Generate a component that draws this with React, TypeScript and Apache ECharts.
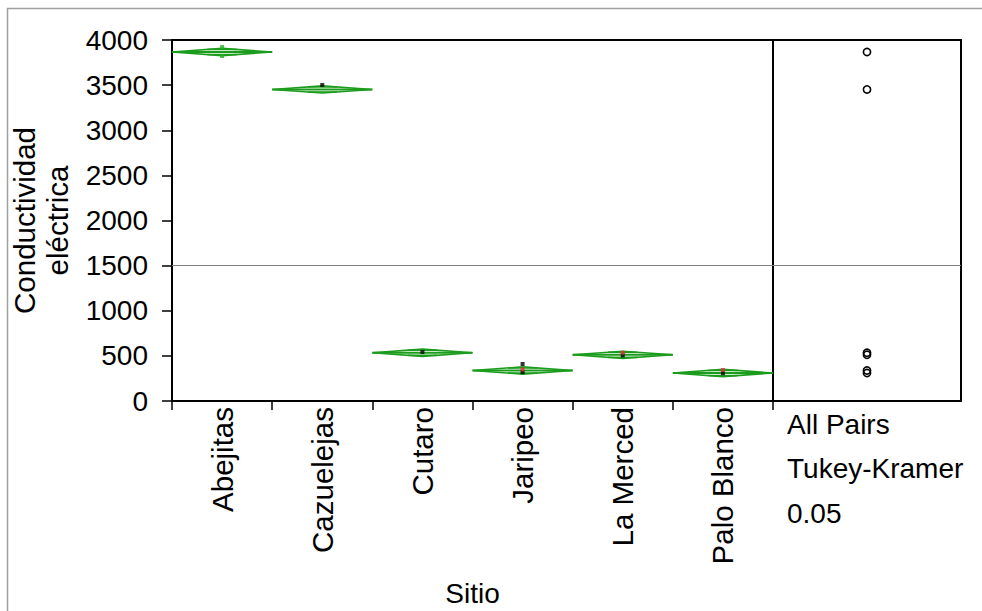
import React, { useEffect, useRef } from "react";
import * as echarts from "echarts";

const categories = ["Abejitas", "Cazuelejas", "Cutaro", "Jaripeo", "La Merced", "Palo Blanco"];
const means = [3867, 3452, 535, 338, 512, 310];
const ciHalf = [40, 40, 40, 40, 40, 40];
const circleRadius = [40, 40, 40, 40, 40, 40];
const pointsGreen = [[0, 3922], [0, 3823]];
const pointsBlack = [[1, 3501], [2, 543], [3, 410], [3, 320], [4, 505], [5, 308]];
const pointsRed = [[3, 350], [4, 535], [5, 343]];
const yMin = 0;
const yMax = 4000;
const yInterval = 500;
const xTitle = "Sitio";
const yTitle = "Conductividad\neléctrica";
const footnote = ["All Pairs", "Tukey-Kramer", "0.05"];

const FONT = "'Liberation Sans', Arial, sans-serif";
const GREEN = "#1c9c1c";

export default function App() {
  const ref = useRef<HTMLDivElement>(null);
  useEffect(() => {
    document.body.style.margin = "0";
    const chart = echarts.init(ref.current!, null, { renderer: "svg" });
    const grandMean = means.reduce((a, b) => a + b, 0) / means.length;
    const meanLine = {
      silent: true,
      symbol: "none",
      label: { show: false },
      lineStyle: { color: "#808080", width: 1, type: "solid" },
      data: [{ yAxis: grandMean }],
    };
    chart.setOption({
      animation: false,
      backgroundColor: "#fff",
      textStyle: { fontFamily: FONT },
      grid: [
        { left: 172, top: 40, width: 601, height: 361, containLabel: false, outerBoundsMode: "none", show: true, borderColor: "#000", borderWidth: 2, backgroundColor: "transparent" },
        { left: 773, top: 40, width: 188, height: 361, containLabel: false, outerBoundsMode: "none", show: true, borderColor: "#000", borderWidth: 2, backgroundColor: "transparent" },
      ],
      xAxis: [
        {
          type: "category",
          gridIndex: 0,
          data: categories,
          boundaryGap: true,
          name: xTitle,
          nameLocation: "middle",
          nameGap: 178,
          nameTextStyle: { fontSize: 28, color: "#000", fontFamily: FONT },
          axisLine: { lineStyle: { color: "#000", width: 2 } },
          axisTick: { show: true, length: 9, lineStyle: { color: "#000", width: 1.5 } },
          axisLabel: { rotate: 90, margin: 6, fontSize: 29.5, color: "#000", fontFamily: FONT },
          splitLine: { show: false },
        },
        { type: "value", gridIndex: 1, min: 0, max: 1, show: false },
      ],
      yAxis: [
        {
          type: "value",
          gridIndex: 0,
          min: yMin,
          max: yMax,
          interval: yInterval,
          name: yTitle,
          nameLocation: "middle",
          nameRotate: 90,
          nameGap: 98,
          nameTextStyle: { fontSize: 29.5, color: "#000", fontFamily: FONT, lineHeight: 33 },
          axisLine: { show: true, lineStyle: { color: "#000", width: 1.5 } },
          axisTick: { show: true, length: 10, lineStyle: { color: "#000", width: 1.5 } },
          axisLabel: { margin: 24, fontSize: 28, color: "#000", fontFamily: FONT, formatter: (v: number) => String(v) },
          splitLine: { show: false },
        },
        { type: "value", gridIndex: 1, min: yMin, max: yMax, show: false },
      ],
      series: [
        {
          type: "custom",
          xAxisIndex: 0,
          yAxisIndex: 0,
          data: means.map((m, i) => [i, m, ciHalf[i]]),
          encode: { x: 0, y: 1 },
          renderItem: (params: any, api: any) => {
            const i = api.value(0);
            const m = api.value(1);
            const ci = api.value(2);
            const c = api.coord([i, m]);
            const hw = api.size([1, 0])[0] / 2;
            const dy = api.size([0, ci])[1];
            const k = Math.SQRT1_2;
            const ow = hw * (1 - k);
            const ody = dy * k;
            const style = { stroke: GREEN, fill: "none", lineWidth: 1.6 };
            return {
              type: "group",
              children: [
                { type: "polygon", shape: { points: [[c[0] - hw, c[1]], [c[0], c[1] - dy], [c[0] + hw, c[1]], [c[0], c[1] + dy]] }, style },
                { type: "line", shape: { x1: c[0] - hw, y1: c[1], x2: c[0] + hw, y2: c[1] }, style: { stroke: GREEN, lineWidth: 2 } },
                { type: "line", shape: { x1: c[0] - ow, y1: c[1] - ody, x2: c[0] + ow, y2: c[1] - ody }, style },
                { type: "line", shape: { x1: c[0] - ow, y1: c[1] + ody, x2: c[0] + ow, y2: c[1] + ody }, style },
              ],
            };
          },
          markLine: meanLine,
          z: 2,
        },
        {
          type: "scatter",
          xAxisIndex: 0,
          yAxisIndex: 0,
          data: pointsGreen,
          symbol: "rect",
          symbolSize: 4,
          itemStyle: { color: "#22b022" },
          z: 3,
        },
        {
          type: "scatter",
          xAxisIndex: 0,
          yAxisIndex: 0,
          data: pointsBlack,
          symbol: "rect",
          symbolSize: 4,
          itemStyle: { color: "#000" },
          z: 3,
        },
        {
          type: "scatter",
          xAxisIndex: 0,
          yAxisIndex: 0,
          data: pointsRed,
          symbol: "rect",
          symbolSize: 4,
          itemStyle: { color: "#e0303a" },
          z: 4,
        },
        {
          type: "custom",
          xAxisIndex: 1,
          yAxisIndex: 1,
          data: means.map((m, i) => [0.5, m, circleRadius[i]]),
          encode: { x: 0, y: 1 },
          renderItem: (params: any, api: any) => {
            const c = api.coord([api.value(0), api.value(1)]);
            const r = api.size([0, api.value(2)])[1];
            return {
              type: "circle",
              shape: { cx: c[0], cy: c[1], r },
              style: { stroke: "#000", fill: "none", lineWidth: 1.6 },
            };
          },
          markLine: meanLine,
          z: 2,
        },
      ],
      graphic: [
        {
          type: "rect",
          shape: { x: 7.5, y: 8.5, width: 1000, height: 700 },
          style: { stroke: "#a0a0a0", fill: "none", lineWidth: 1.5 },
          silent: true,
          z: -1,
        },
        ...footnote.map((t, i) => ({
          type: "text",
          left: 787,
          top: 410 + i * 44.5,
          style: { text: t, fontSize: 28, fill: "#000", fontFamily: FONT },
        })),
      ],
    });
    return () => chart.dispose();
  }, []);
  return <div ref={ref} style={{ width: 982, height: 611, position: "fixed", left: 0, top: 0 }} />;
}
